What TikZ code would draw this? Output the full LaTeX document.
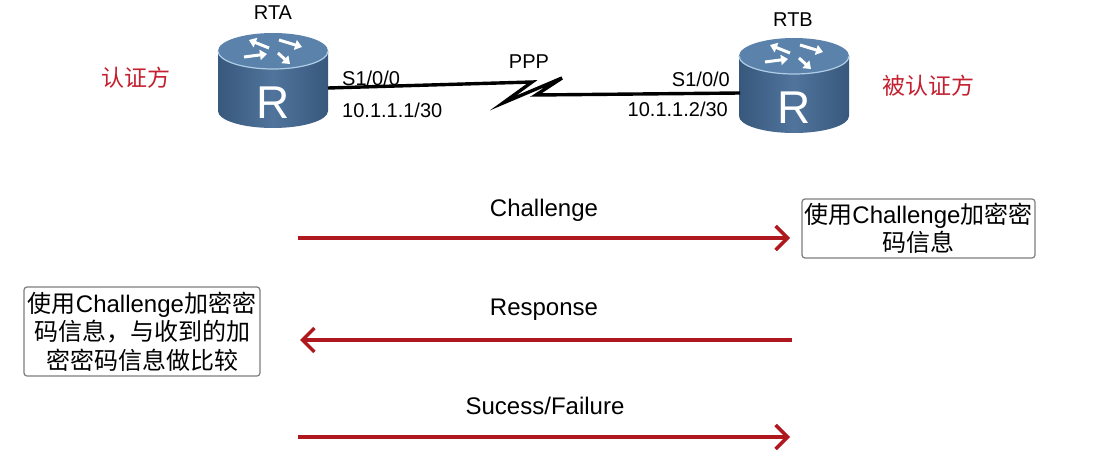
\documentclass[tikz,border=0pt]{standalone}
\usepackage{fontspec}
\setmainfont{Liberation Sans}
\newfontfamily\cjk{Noto Sans CJK SC}
\usetikzlibrary{arrows.meta}
\definecolor{arrowred}{RGB}{176,24,32}
\definecolor{labelred}{RGB}{196,32,48}
\definecolor{rbody}{RGB}{80,116,156}
\definecolor{rtop}{RGB}{90,130,170}
\definecolor{rdark}{RGB}{56,88,124}
\definecolor{rlight}{RGB}{175,205,230}
\definecolor{boxgray}{RGB}{125,125,125}
\tikzset{
  lbl/.style={font=\fontsize{20}{24}\selectfont, inner sep=0},
  msg/.style={font=\fontsize{24}{28}\selectfont, inner sep=0, anchor=base},
  side/.style={font=\fontsize{23}{27}\selectfont\cjk, text=labelred, inner sep=0},
  notebox/.style={draw=boxgray, line width=1.2pt, rounded corners=3pt, align=center,
    font=\fontsize{24}{28.5}\selectfont, inner sep=0},
  flow/.style={draw=arrowred, line width=3.4pt, -{Straight Barb[length=12pt, width=24pt, line width=3.4pt]}},
  iconarrow/.style={white, line width=3pt, -{Triangle[length=7pt, width=10pt]}},
  serial/.style={line width=3.4pt, line join=miter}
}
\newcommand{\drawrouter}[3]{%
  \shade[left color=rdark, right color=rdark, middle color=rbody]
    (#1-55,#2) -- (#1-55,#3) arc[start angle=180, end angle=0, x radius=55, y radius=17] -- (#1+55,#2) -- cycle;
  \fill[rtop] (#1,#2) ellipse[x radius=55, y radius=18];
  \draw[rlight, line width=1.2pt] (#1-55,#2) arc[start angle=180, end angle=0, x radius=55, y radius=18];
  \begin{scope}[shift={(#1,#2)}]
    \draw[iconarrow] (-4,-3) -- (-24,-11);
    \draw[iconarrow] (6,-11) -- (29,-4);
    \draw[iconarrow] (-29,6) -- (-6,3);
    \draw[iconarrow] (5,2) -- (17,13);
  \end{scope}
  \node[white, font=\fontsize{46}{46}\selectfont, inner sep=0] at (#1,#3-8) {R};
}
\begin{document}
\begin{tikzpicture}[x=1pt, y=-1pt]
\useasboundingbox (0,0) rectangle (1105,460);
\fill[white] (0,0) rectangle (1105,460);

% routers
\drawrouter{273}{51}{111}
\drawrouter{794}{56}{116}
\node[inner sep=0, minimum width=110pt, minimum height=94pt] (rta) at (273,81) {};
\node[inner sep=0, minimum width=110pt, minimum height=94pt] (rtb) at (794,86) {};
\node[lbl, anchor=base] (rtaname) at (273,20) {RTA};
\node[lbl, anchor=base] (rtbname) at (793,27) {RTB};

% serial link
\coordinate (pa) at (328,88);
\coordinate (pb) at (740,93);
\draw[serial] (pa) -- (532,82) -- (503,103) -- (562,78) -- (536,95) -- (pb);
\node[lbl, anchor=base] (ppp) at (529,68) {PPP};
\node[lbl, anchor=base west] (ifa) at (342,85) {S1/0/0};
\node[lbl, anchor=base west] (ipa) at (342,117) {10.1.1.1/30};
\node[lbl, anchor=base east] (ifb) at (730,86) {S1/0/0};
\node[lbl, anchor=base east] (ipb) at (728,116) {10.1.1.2/30};

% roles
\node[side] (auth) at (136,78) {认证方};
\node[side] (authd) at (928,86) {被认证方};

% messages
\coordinate (c1s) at (298,238);
\coordinate (c1e) at (790,238);
\coordinate (r1s) at (792,340);
\coordinate (r1e) at (300,340);
\coordinate (s1s) at (298,437);
\coordinate (s1e) at (790,437);
\draw[flow] (c1s) -- (c1e);
\draw[flow] (r1s) -- (r1e);
\draw[flow] (s1s) -- (s1e);
\node[msg] (chl) at (544,216) {Challenge};
\node[msg] (rsp) at (544,315) {Response};
\node[msg] (suc) at (545,414) {Sucess/Failure};

% note boxes
\node[notebox, minimum width=233pt, minimum height=59pt] (noteb) at (918.5,228.5)
  {{\cjk 使用}Challenge{\cjk 加密密}\\{\cjk 码信息}};
\node[notebox, minimum width=236pt, minimum height=89pt] (notea) at (142,331.5)
  {{\cjk 使用}Challenge{\cjk 加密密}\\{\cjk 码信息，与收到的加}\\{\cjk 密密码信息做比较}};
\end{tikzpicture}
\end{document}
